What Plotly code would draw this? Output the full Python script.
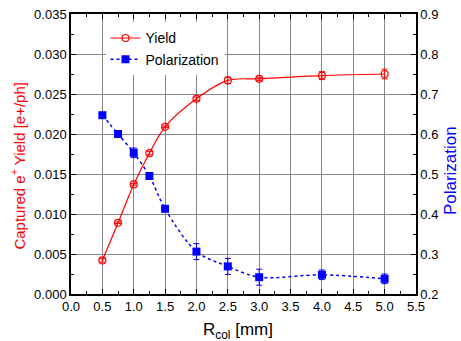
import plotly.graph_objects as go

r_col = [0.5, 0.75, 1.0, 1.25, 1.5, 2.0, 2.5, 3.0, 4.0, 5.0]
yield_vals = [0.0042, 0.0089, 0.0137, 0.0176, 0.0209, 0.0244, 0.0267, 0.0269, 0.0273, 0.0275]
yield_err = [0.0002, 0.0001, 0.0001, 0.0002, 0.0001, 0.0002, 0.0004, 0.0002, 0.0005, 0.0006]
pol_vals = [0.647, 0.600, 0.553, 0.495, 0.413, 0.306, 0.269, 0.242, 0.248, 0.238]
pol_err = [0.005, 0.004, 0.012, 0.006, 0.004, 0.020, 0.020, 0.020, 0.012, 0.012]

x_ticks = [0.0, 0.5, 1.0, 1.5, 2.0, 2.5, 3.0, 3.5, 4.0, 4.5, 5.0, 5.5]
y_ticks = [0.000, 0.005, 0.010, 0.015, 0.020, 0.025, 0.030, 0.035]
y2_ticks = [0.2, 0.3, 0.4, 0.5, 0.6, 0.7, 0.8, 0.9]

x_title = "R<sub>col</sub> [mm]"
y_title = "Captured e<sup>+</sup> Yield [e+/ph]"
y2_title = "Polarization"

font_family = "Liberation Sans, Arial, sans-serif"

fig = go.Figure()
fig.add_trace(go.Scatter(
    x=r_col, y=yield_vals, name="Yield", mode="lines+markers",
    line=dict(color="red", width=1.2, shape="spline"),
    marker=dict(symbol="circle-open", size=7, color="red", line=dict(width=1.2)),
    error_y=dict(type="data", array=yield_err, color="red", thickness=1, width=3),
    yaxis="y",
))
fig.add_trace(go.Scatter(
    x=r_col, y=pol_vals, name="Polarization", mode="lines+markers",
    line=dict(color="blue", width=1.5, shape="spline", smoothing=0.9, dash="dot"),
    marker=dict(symbol="square", size=8, color="blue"),
    error_y=dict(type="data", array=pol_err, color="blue", thickness=1, width=3),
    yaxis="y2",
))

grid_color = "#858585"
fig.update_layout(
    width=461, height=341,
    margin=dict(l=71, r=45, t=14, b=47, autoexpand=False),
    paper_bgcolor="white", plot_bgcolor="white",
    font=dict(family=font_family, size=13, color="black"),
    showlegend=True,
    legend=dict(x=0.1, y=0.97, xanchor="left", yanchor="top",
                bgcolor="white", borderwidth=0, font=dict(size=14),
                tracegroupgap=0, itemwidth=30),
    xaxis=dict(
        range=[0, 5.5], tickvals=x_ticks, ticktext=[f"{v:.1f}" for v in x_ticks],
        showgrid=True, gridcolor=grid_color, gridwidth=1,
        showline=True, linecolor="black", linewidth=1.5, mirror="ticks",
        ticks="inside", ticklen=5, tickcolor="black",
        minor=dict(dtick=0.25, ticks="inside", ticklen=3, tickcolor="black", showgrid=False),
        zeroline=False,
        automargin=False,
    ),
    yaxis=dict(
        range=[0, 0.035], tickvals=y_ticks, ticktext=[f"{v:.3f}" for v in y_ticks],
        showgrid=True, gridcolor=grid_color, gridwidth=1,
        showline=True, linecolor="black", linewidth=1.5, mirror=False,
        ticks="inside", ticklen=5, tickcolor="black",
        minor=dict(dtick=0.0025, ticks="inside", ticklen=3, tickcolor="black", showgrid=False),
        zeroline=False,
        automargin=False,
    ),
    yaxis2=dict(
        range=[0.2, 0.9], tickvals=y2_ticks, ticktext=[f"{v:.1f}" for v in y2_ticks],
        overlaying="y", side="right",
        showgrid=False,
        showline=True, linecolor="black", linewidth=1.5,
        ticks="inside", ticklen=5, tickcolor="black",
        minor=dict(dtick=0.05, ticks="inside", ticklen=3, tickcolor="black"),
        zeroline=False,
        automargin=False,
    ),
    annotations=[
        dict(text=x_title, xref="paper", yref="paper", x=0.484, y=-0.132,
             xanchor="center", yanchor="middle", showarrow=False,
             font=dict(size=17, color="black")),
        dict(text=y_title, xref="paper", yref="paper", x=-0.155, y=0.457,
             xanchor="center", yanchor="middle", showarrow=False, textangle=-90,
             font=dict(size=15, color="red")),
        dict(text=y2_title, xref="paper", yref="paper", x=1.0986, y=0.439,
             xanchor="center", yanchor="middle", showarrow=False, textangle=-90,
             font=dict(size=17, color="blue")),
    ],
)

fig.write_html("out.html")
